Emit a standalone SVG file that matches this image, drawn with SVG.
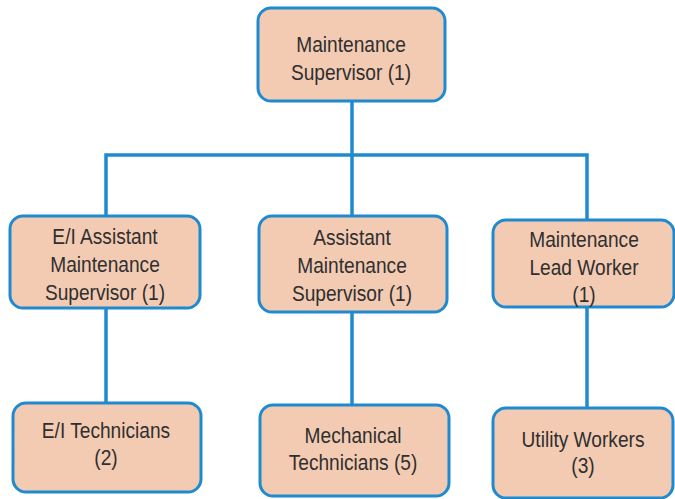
<svg xmlns="http://www.w3.org/2000/svg" width="675" height="499" viewBox="0 0 675 499">
<style>
.box{fill:#f3cbb3;stroke:#1f8ad0;stroke-width:3}
.lbl{font-family:"Liberation Sans",Arial,sans-serif;font-size:22px;fill:#2f2f2f;text-anchor:middle}
.con{fill:none;stroke:#1f8ad0;stroke-width:3.5}
</style>
<rect width="675" height="499" fill="#ffffff"/>
<g id="connectors">
<path class="con" d="M352,101 V216"/>
<path class="con" d="M106,216 V155 H587 V220"/>
<path class="con" d="M106,308 V403"/>
<path class="con" d="M352,312 V405"/>
<path class="con" d="M587,307 V408"/>
</g>
<g id="n-top"><rect class="box" x="258" y="8" width="187" height="93" rx="13"/>
<g transform="translate(351,0) scale(0.87,1)"><text class="lbl" x="0" y="52">Maintenance</text><text class="lbl" x="0" y="80">Supervisor (1)</text></g></g>
<g id="n-ei-asst"><rect class="box" x="10" y="216" width="190" height="92" rx="13"/>
<g transform="translate(105,0) scale(0.87,1)"><text class="lbl" x="0" y="244">E/I Assistant</text><text class="lbl" x="0" y="272">Maintenance</text><text class="lbl" x="0" y="300">Supervisor (1)</text></g></g>
<g id="n-asst"><rect class="box" x="259" y="216" width="188" height="96" rx="13"/>
<g transform="translate(352,0) scale(0.87,1)"><text class="lbl" x="0" y="245">Assistant</text><text class="lbl" x="0" y="273">Maintenance</text><text class="lbl" x="0" y="301">Supervisor (1)</text></g></g>
<g id="n-lead"><rect class="box" x="493" y="220" width="181" height="87" rx="13"/>
<g transform="translate(584,0) scale(0.87,1)"><text class="lbl" x="0" y="247">Maintenance</text><text class="lbl" x="0" y="275">Lead Worker</text><text class="lbl" x="0" y="302">(1)</text></g></g>
<g id="n-eitech"><rect class="box" x="13" y="403" width="188" height="89" rx="13"/>
<g transform="translate(106,0) scale(0.87,1)"><text class="lbl" x="0" y="438">E/I Technicians</text><text class="lbl" x="0" y="465">(2)</text></g></g>
<g id="n-mech"><rect class="box" x="260" y="405" width="189" height="91" rx="13"/>
<g transform="translate(353,0) scale(0.87,1)"><text class="lbl" x="0" y="443">Mechanical</text><text class="lbl" x="0" y="470">Technicians (5)</text></g></g>
<g id="n-util"><rect class="box" x="493" y="408" width="180" height="90" rx="13"/>
<g transform="translate(583,0) scale(0.87,1)"><text class="lbl" x="0" y="447">Utility Workers</text><text class="lbl" x="0" y="473">(3)</text></g></g>
</svg>
